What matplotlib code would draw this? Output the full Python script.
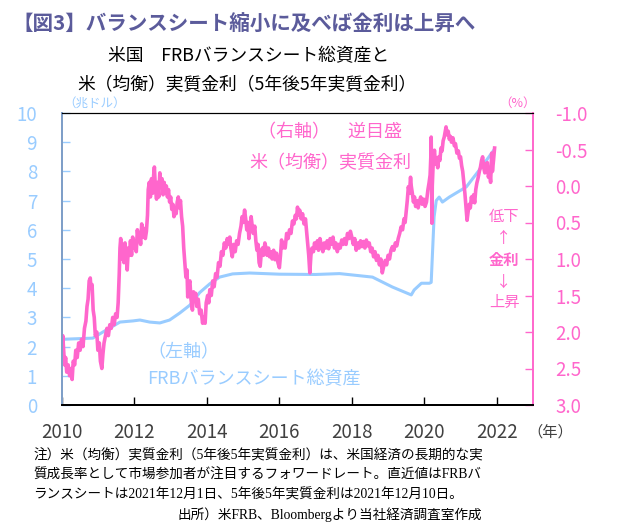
import matplotlib
matplotlib.use("Agg")
import matplotlib.pyplot as plt
from matplotlib.ticker import FixedLocator

plt.rcParams['font.family'] = ['Noto Sans CJK JP', 'DejaVu Sans']
plt.rcParams['axes.unicode_minus'] = False

# FRB balance sheet total assets (trillion USD), left axis
bs_year = [2010.0, 2010.85, 2011.13, 2011.6, 2011.96, 2012.15, 2012.42, 2012.7,
           2012.97, 2013.25, 2013.53, 2013.8, 2014.08, 2014.35, 2014.71, 2015.18,
           2016.0, 2017.0, 2017.66, 2018.57, 2019.12, 2019.64, 2019.72, 2019.92,
           2020.14, 2020.19, 2020.27, 2020.33, 2020.41, 2020.5, 2020.69, 2021.16,
           2021.52, 2021.92]
bs_val = [2.25, 2.29, 2.5, 2.84, 2.88, 2.91, 2.84, 2.81,
          2.91, 3.15, 3.42, 3.85, 4.15, 4.38, 4.49, 4.52,
          4.48, 4.47, 4.5, 4.38, 4.04, 3.77, 3.94, 4.17,
          4.17, 4.2, 6.44, 7.0, 7.12, 6.95, 7.12, 7.47,
          8.05, 8.73]

# 5y5y real rate (%), right axis (inverted)
rr_year = [
    2010.00, 2010.02, 2010.04, 2010.07, 2010.10, 2010.13, 2010.17, 2010.21, 2010.25, 2010.28,
    2010.31, 2010.35, 2010.38, 2010.42, 2010.46, 2010.50, 2010.54, 2010.58, 2010.62, 2010.66,
    2010.69, 2010.72, 2010.75, 2010.78, 2010.80, 2010.83, 2010.86, 2010.89, 2010.92, 2010.96, 2010.99,
    2011.03, 2011.06, 2011.10, 2011.13, 2011.16, 2011.20, 2011.24, 2011.28, 2011.32, 2011.36,
    2011.40, 2011.44, 2011.48, 2011.52, 2011.55, 2011.58, 2011.60, 2011.62, 2011.65, 2011.68,
    2011.71, 2011.74, 2011.77, 2011.80, 2011.83, 2011.86, 2011.89, 2011.92, 2011.95, 2011.98,
    2012.02, 2012.05, 2012.08, 2012.11, 2012.14, 2012.17, 2012.20, 2012.23, 2012.26, 2012.30,
    2012.33, 2012.36, 2012.38, 2012.41, 2012.44, 2012.47, 2012.50, 2012.53, 2012.55, 2012.58,
    2012.61, 2012.64, 2012.67, 2012.70, 2012.73, 2012.76, 2012.79, 2012.82, 2012.85, 2012.88,
    2012.91, 2012.94, 2012.97,
    2013.00, 2013.03, 2013.06, 2013.09, 2013.12, 2013.15, 2013.18, 2013.21, 2013.24, 2013.27,
    2013.30, 2013.33, 2013.36, 2013.39, 2013.42, 2013.45, 2013.47, 2013.50, 2013.53, 2013.56,
    2013.60, 2013.63, 2013.66, 2013.69, 2013.72, 2013.76, 2013.80, 2013.84, 2013.88, 2013.92,
    2013.95, 2013.98,
    2014.02, 2014.05, 2014.08, 2014.12, 2014.16, 2014.20, 2014.24, 2014.28, 2014.32, 2014.36,
    2014.40, 2014.44, 2014.48, 2014.52, 2014.56, 2014.60, 2014.63, 2014.66, 2014.70, 2014.74,
    2014.78, 2014.82, 2014.86, 2014.90, 2014.94, 2014.97, 2015.00,
    2015.04, 2015.07, 2015.10, 2015.13, 2015.16, 2015.19, 2015.22, 2015.25, 2015.28, 2015.32,
    2015.35, 2015.38, 2015.41, 2015.44, 2015.47, 2015.50, 2015.53, 2015.56, 2015.60, 2015.63,
    2015.66, 2015.70, 2015.73, 2015.76, 2015.80, 2015.84, 2015.88, 2015.92, 2015.96,
    2016.00, 2016.03, 2016.06, 2016.09, 2016.12, 2016.16, 2016.20, 2016.24, 2016.28, 2016.32,
    2016.36, 2016.40, 2016.44, 2016.47, 2016.50, 2016.53, 2016.56, 2016.60, 2016.64, 2016.68,
    2016.72, 2016.75, 2016.78, 2016.81, 2016.84, 2016.87, 2016.90, 2016.94, 2016.97,
    2017.01, 2017.05, 2017.08, 2017.12, 2017.16, 2017.20, 2017.24, 2017.28, 2017.32, 2017.36,
    2017.40, 2017.44, 2017.48, 2017.52, 2017.56, 2017.60, 2017.64, 2017.68, 2017.72, 2017.76,
    2017.80, 2017.84, 2017.88, 2017.92, 2017.96,
    2018.00, 2018.04, 2018.08, 2018.12, 2018.16, 2018.20, 2018.24, 2018.28, 2018.32, 2018.36,
    2018.40, 2018.44, 2018.48, 2018.52, 2018.56, 2018.60, 2018.64, 2018.68, 2018.72, 2018.76,
    2018.80, 2018.84, 2018.88, 2018.92, 2018.96,
    2019.00, 2019.04, 2019.08, 2019.12, 2019.16, 2019.20, 2019.24, 2019.28, 2019.32, 2019.36,
    2019.40, 2019.44, 2019.47, 2019.50, 2019.53, 2019.56, 2019.59, 2019.62, 2019.64, 2019.67,
    2019.70, 2019.73, 2019.76, 2019.80, 2019.83, 2019.86, 2019.90, 2019.94, 2019.98,
    2020.02, 2020.06, 2020.10, 2020.13, 2020.16, 2020.18, 2020.19, 2020.20, 2020.21, 2020.22,
    2020.24, 2020.26, 2020.28, 2020.31, 2020.34, 2020.37, 2020.40, 2020.43, 2020.46, 2020.49,
    2020.52, 2020.55, 2020.58, 2020.60, 2020.63, 2020.66, 2020.69, 2020.72, 2020.75, 2020.79,
    2020.83, 2020.86, 2020.90, 2020.94, 2020.97,
    2021.00, 2021.03, 2021.06, 2021.09, 2021.12, 2021.15, 2021.18, 2021.21, 2021.24, 2021.27,
    2021.30, 2021.33, 2021.36, 2021.39, 2021.42, 2021.45, 2021.48, 2021.52, 2021.55, 2021.58,
    2021.61, 2021.64, 2021.67, 2021.70, 2021.74, 2021.77, 2021.80, 2021.83, 2021.86, 2021.88,
    2021.91, 2021.94]
rr_val = [
    2.30, 2.05, 2.20, 2.45, 2.35, 2.55, 2.45, 2.60, 2.50, 2.65,
    2.40, 2.45, 2.25, 2.35, 2.15, 2.25, 2.10, 2.20, 1.95, 1.85,
    1.65, 1.55, 1.30, 1.26, 1.40, 1.35, 1.70, 1.80, 2.05, 2.00, 2.25,
    2.15, 2.40, 2.50, 2.30, 2.15, 2.05, 1.95, 2.05, 1.90, 1.95,
    1.80, 1.90, 1.75, 1.80, 1.60, 1.20, 0.85, 0.72, 1.00, 0.80,
    1.05, 0.78, 0.95, 1.15, 0.85, 0.95, 0.75, 0.95, 0.70, 0.85,
    0.75, 0.90, 0.60, 0.75, 0.65, 0.80, 0.52, 0.70, 0.58, 0.72,
    0.62, 0.40, 0.05, -0.05, 0.15, -0.10, 0.10, -0.15, -0.26, 0.05,
    0.18, -0.05, 0.15, -0.18, 0.00, -0.10, 0.12, -0.05, 0.10, 0.00,
    0.15, 0.05, 0.22,
    0.15, 0.32, 0.25, 0.42, 0.30, 0.38, 0.22, 0.15, 0.30, 0.20,
    0.42, 0.55, 0.85, 1.05, 1.25, 1.15, 1.52, 1.35, 1.30, 1.55,
    1.70, 1.45, 1.55, 1.47, 1.65, 1.55, 1.75, 1.70, 1.88, 1.80,
    1.88, 1.60,
    1.50, 1.60, 1.42, 1.50, 1.30, 1.38, 1.20, 1.25, 1.05, 1.10,
    0.90, 0.95, 0.78, 0.85, 0.72, 0.80, 0.70, 0.85, 0.97, 0.80,
    0.90, 0.75, 0.80, 0.65, 0.55, 0.42, 0.50,
    0.33, 0.45, 0.60, 0.50, 0.72, 0.55, 0.42, 0.55, 0.65, 0.55,
    0.75, 0.88, 0.80, 1.05, 1.10, 0.92, 0.85, 0.95, 0.78, 0.85,
    0.95, 0.85, 0.97, 0.90, 1.00, 0.88, 1.01, 0.92, 1.05,
    1.12, 0.95, 0.74, 0.85, 0.78, 0.85, 0.65, 0.72, 0.60, 0.65,
    0.48, 0.52, 0.40, 0.45, 0.29, 0.40, 0.33, 0.45, 0.38, 0.52,
    0.45, 0.62, 0.78, 0.95, 1.19, 0.95, 0.85, 0.90, 0.78,
    0.85, 0.75, 0.88, 0.72, 0.82, 0.90, 0.78, 0.85, 0.75, 0.86,
    0.72, 0.80, 0.70, 0.85, 0.78, 0.90, 0.80, 0.85, 0.74, 0.80,
    0.72, 0.80, 0.65, 0.72, 0.62,
    0.70, 0.80, 0.72, 0.88, 0.78, 0.85, 0.75, 0.83, 0.76, 0.85,
    0.74, 0.82, 0.78, 0.90, 0.85, 0.97, 0.90, 1.02, 0.95, 1.08,
    1.00, 1.19, 1.10, 1.02, 1.08,
    0.95, 1.00, 0.88, 0.83, 0.88, 0.78, 0.82, 0.72, 0.65, 0.56,
    0.60, 0.45, 0.50, 0.35, 0.20, 0.01, 0.10, -0.12, 0.00, 0.10,
    0.22, 0.15, 0.28, 0.20, 0.30, 0.22, 0.15, 0.25, 0.18,
    0.28, 0.22, 0.05, -0.04, -0.15, -0.40, -0.67, 0.00, 0.51, 0.00,
    -0.25, -0.40, -0.49, -0.30, -0.38, -0.25, -0.40, -0.35, -0.52, -0.48,
    -0.62, -0.67, -0.75, -0.81, -0.70, -0.75, -0.64, -0.68, -0.60, -0.66,
    -0.55, -0.58, -0.45, -0.48, -0.38,
    -0.40, -0.28, -0.20, -0.05, 0.10, 0.29, 0.47, 0.35, 0.25, 0.30,
    0.15, 0.22, 0.12, 0.23, 0.05, -0.04, -0.10, -0.20, -0.26, -0.35,
    -0.40, -0.25, -0.18, -0.30, -0.32, -0.12, -0.20, -0.05, -0.45, -0.20,
    -0.35, -0.52]

x_ticks = [2010, 2012, 2014, 2016, 2018, 2020, 2022]
left_ticks = [0, 1, 2, 3, 4, 5, 6, 7, 8, 9, 10]
right_ticks = [-1.0, -0.5, 0.0, 0.5, 1.0, 1.5, 2.0, 2.5, 3.0]

PINK = '#ff66cc'
BLUE = '#99ccff'
W, H = 637, 526


def fx(x):
    return x / W


def fy(y):
    return 1 - y / H


fig = plt.figure(figsize=(6.37, 5.26), dpi=100)
ax = fig.add_axes([fx(62), fy(405), fx(533) - fx(62), fy(113) - fy(405)])
ax2 = ax.twinx()

ax.plot(bs_year, bs_val, color=BLUE, lw=2.2, solid_joinstyle='round')
ax2.plot(rr_year, rr_val, color=PINK, lw=2.6, solid_joinstyle='round')

ax.set_xlim(2010, 2023)
ax.set_ylim(0, 10)
ax2.set_ylim(3.0, -1.0)

ax.xaxis.set_major_locator(FixedLocator(x_ticks))
ax.set_xticklabels([str(t) for t in x_ticks])
ax.yaxis.set_major_locator(FixedLocator(left_ticks))
ax.set_yticklabels([str(t) for t in left_ticks])
ax2.yaxis.set_major_locator(FixedLocator(right_ticks))
ax2.set_yticklabels([f'{t:.1f}' for t in right_ticks])

ax.tick_params(axis='x', direction='in', length=6, width=1, colors='black',
               labelcolor='#404040', labelsize=13.5, pad=12)
ax.tick_params(axis='y', direction='in', length=6, width=1, colors=BLUE,
               labelcolor=BLUE, labelsize=13.5, pad=18)
ax2.tick_params(axis='y', direction='in', length=6, width=1, colors=PINK,
                labelcolor=PINK, labelsize=13.5, pad=16)

for a in (ax, ax2):
    a.spines['top'].set_color('black')
    a.spines['bottom'].set_color('black')
    a.spines['bottom'].set_linewidth(1.4)
    a.spines['left'].set_color('#7f9fc8')
    a.spines['left'].set_linewidth(1.4)
    a.spines['right'].set_color(PINK)
    a.spines['right'].set_linewidth(1.2)

# titles
fig.text(fx(12), fy(23), '【図3】バランスシート縮小に及べば金利は上昇へ',
         fontsize=14.8, fontweight='bold', color='#5b5b9b', va='center', ha='left')
fig.text(fx(249), fy(56), '米国　FRBバランスシート総資産と',
         fontsize=12.8, color='black', va='center', ha='center')
fig.text(fx(247), fy(85), '米（均衡）実質金利（5年後5年実質金利）',
         fontsize=12.8, color='black', va='center', ha='center')

# unit labels
fig.text(fx(95), fy(103), '（兆ドル）', fontsize=9, color=BLUE, va='center', ha='center')
fig.text(fx(518), fy(103), '（%）', fontsize=9, color=PINK, va='center', ha='center')
fig.text(fx(550), fy(432), '（年）', fontsize=11, color='#404040', va='center', ha='center')

# annotations
fig.text(fx(330), fy(132), '（右軸）　逆目盛', fontsize=13, color=PINK, va='center', ha='center')
fig.text(fx(330), fy(163), '米（均衡）実質金利', fontsize=13, color=PINK, va='center', ha='center')
fig.text(fx(147), fy(352), '（左軸）', fontsize=13, color=BLUE, va='center', ha='left')
fig.text(fx(147), fy(379), 'FRBバランスシート総資産', fontsize=13, color=BLUE,
         va='center', ha='left')

fig.text(fx(504), fy(217), '低下', fontsize=11, color=PINK, va='center', ha='center')
fig.text(fx(504), fy(239), '↑', fontsize=11, color=PINK, va='center', ha='center')
fig.text(fx(504), fy(260), '金利', fontsize=11, color=PINK, fontweight='bold',
         va='center', ha='center')
fig.text(fx(504), fy(282), '↓', fontsize=11, color=PINK, va='center', ha='center')
fig.text(fx(504), fy(302), '上昇', fontsize=11, color=PINK, va='center', ha='center')

# notes
note_font = ['Liberation Serif', 'Noto Sans CJK JP']
notes = ['注）米（均衡）実質金利（5年後5年実質金利）は、米国経済の長期的な実',
         '質成長率として市場参加者が注目するフォワードレート。直近値はFRBバ',
         'ランスシートは2021年12月1日、5年後5年実質金利は2021年12月10日。']
for i, line in enumerate(notes):
    fig.text(fx(33), fy(456 + 19.5 * i), line, fontsize=9.8, family=note_font,
             color='black', va='center', ha='left')
fig.text(fx(482), fy(515), '出所）米FRB、Bloombergより当社経済調査室作成',
         fontsize=9.8, family=note_font, color='black', va='center', ha='right')

fig.savefig('out.png', dpi=100)
